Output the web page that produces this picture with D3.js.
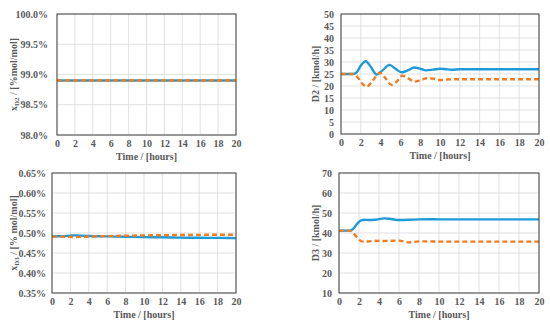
<!DOCTYPE html>
<html><head><meta charset="utf-8">
<script src="https://cdn.jsdelivr.net/npm/d3@7"></script>
<style>body{margin:0;background:#fff}svg{display:block}</style>
</head><body><svg id="c" width="550" height="325"></svg>
<script>
const xTicks = [0,2,4,6,8,10,12,14,16,18,20];

// Panel 1: xD2 (%mol/mol)
const p1Time   = [0, 20];
const p1Blue   = [98.9, 98.9];
const p1Orange = [98.9, 98.9];
const p1Ticks  = [98.0, 98.5, 99.0, 99.5, 100.0];

// Panel 2: D2 (kmol/h)
const p2BlueTime   = [0,1.2,1.6,2.0,2.5,3.0,3.6,4.2,4.9,5.5,6.1,6.8,7.4,8.0,8.6,9.3,10.0,10.6,11.2,12,14,16,18,20];
const p2Blue       = [25,25,25.8,28.5,30.3,28,24.8,26.5,28.8,27.2,25.7,26.6,27.7,27.2,26.5,26.8,27.2,27.0,26.8,27,27,27,27,27];
const p2OrangeTime = [0,1.2,1.6,2.1,2.6,3.2,3.9,4.5,5.1,5.6,6.2,6.8,7.4,8.1,8.8,9.4,10.0,10.7,11.5,12,14,16,18,20];
const p2Orange     = [25,25,24,21.2,19.7,22.2,25.5,23.2,20.5,21.7,24.3,23.2,21.8,22.5,23.3,23.0,22.5,22.7,22.8,22.8,22.8,22.8,22.8,22.8];
const p2Ticks = [0,5,10,15,20,25,30,35,40,45,50];

// Panel 3: xD3 (% mol/mol)
const p3Time   = [0,1,2,2.5,3,4,6,8,10,12,14,16,18,20];
const p3Blue   = [0.492,0.492,0.4935,0.494,0.4935,0.4925,0.4915,0.4905,0.4898,0.4892,0.4885,0.488,0.4877,0.4872];
const p3Orange = [0.491,0.491,0.4902,0.4898,0.4902,0.491,0.4922,0.4932,0.494,0.4945,0.495,0.4953,0.4956,0.4958];
const p3Ticks  = [0.35,0.40,0.45,0.50,0.55,0.60,0.65];

// Panel 4: D3 (kmol/h)
const p4Time   = [0,1.1,1.4,1.8,2.2,2.6,3.0,3.6,4.5,5.2,6.0,7,8,9,10,12,14,16,18,20];
const p4Blue   = [41.2,41.2,42,44.5,46.3,46.6,46.5,46.6,47.3,47.0,46.5,46.6,46.8,46.9,46.8,46.8,46.8,46.8,46.8,46.8];
const p4Orange = [41.2,41.2,40.2,37.8,36.0,35.6,35.8,36.1,36.0,36.1,36.2,35.3,35.8,35.8,35.7,35.7,35.7,35.7,35.7,35.7];
const p4Ticks  = [10,20,30,40,50,60,70];

const BLUE = "#1f9ad9", ORANGE = "#f07c22", TXT = "#595959";
const FONT = "'Liberation Serif','Times New Roman',serif";
const svg = d3.select("#c");

function panel(o){
  const g = svg.append("g");
  const x = d3.scaleLinear().domain([0,20]).range([o.l,o.r]);
  const y = d3.scaleLinear().domain([o.ticks[0], o.ticks[o.ticks.length-1]]).range([o.b,o.t]);
  // grid
  g.append("g").selectAll("line").data(xTicks).join("line")
    .attr("x1",d=>x(d)).attr("x2",d=>x(d)).attr("y1",o.t).attr("y2",o.b)
    .attr("stroke","#d9d9d9").attr("stroke-width",0.8);
  g.append("g").selectAll("line").data(o.ticks).join("line")
    .attr("x1",o.l).attr("x2",o.r).attr("y1",d=>y(d)).attr("y2",d=>y(d))
    .attr("stroke","#d9d9d9").attr("stroke-width",0.8);
  // axes (labels only)
  const xa = g.append("g").attr("transform",`translate(0,${o.b})`)
    .call(d3.axisBottom(x).tickValues(xTicks).tickSize(0).tickPadding(5).tickFormat(d3.format("d")));
  const ya = g.append("g").attr("transform",`translate(${o.l},0)`)
    .call(d3.axisLeft(y).tickValues(o.ticks).tickSize(0).tickPadding(o.pad).tickFormat(o.fmt));
  [xa,ya].forEach(a=>{ a.select(".domain").remove();
    a.selectAll("text").attr("fill",TXT).style("font-family",FONT).style("font-size","10px").style("font-weight","bold"); });
  // lines
  const line = (xs,ys)=> d3.line().curve(d3.curveMonotoneX).x((d,i)=>x(xs[i])).y(d=>y(d))(ys);
  g.append("path").attr("d",line(o.bt,o.bv)).attr("fill","none").attr("stroke",BLUE).attr("stroke-width",2.4);
  g.append("path").attr("d",line(o.ot,o.ov)).attr("fill","none").attr("stroke",ORANGE).attr("stroke-width",2.4).attr("stroke-dasharray","5,3");
  // border
  g.append("rect").attr("x",o.l).attr("y",o.t).attr("width",o.r-o.l).attr("height",o.b-o.t)
    .attr("fill","none").attr("stroke","#404040").attr("stroke-width",1);
  // titles
  g.append("text").attr("x",(o.l+o.r)/2).attr("y",o.b+25).attr("text-anchor","middle")
    .attr("fill",TXT).style("font-family",FONT).style("font-size","10px").style("font-weight","bold").text("Time / [hours]");
  const yt = g.append("text").attr("transform",`translate(${o.yx},${(o.t+o.b)/2}) rotate(-90)`).attr("text-anchor","middle")
    .attr("fill",TXT).style("font-family",FONT).style("font-size","10px").style("font-weight","bold");
  if(o.sub){
    yt.append("tspan").text("x");
    yt.append("tspan").attr("dy",2).style("font-size","7px").text(o.sub);
    yt.append("tspan").attr("dy",-2).text(o.ytitle);
  } else yt.text(o.ytitle);
}

panel({l:57,r:236,t:14,b:135,ticks:p1Ticks,fmt:d=>d.toFixed(1)+"%",pad:9,yx:17,sub:"D2",ytitle:" / [%mol/mol]",
  bt:p1Time,bv:p1Blue,ot:p1Time,ov:p1Orange});
panel({l:341,r:539,t:14,b:134,ticks:p2Ticks,fmt:d3.format("d"),pad:7,yx:319,ytitle:"D2 / [kmol/h]",
  bt:p2BlueTime,bv:p2Blue,ot:p2OrangeTime,ov:p2Orange});
panel({l:52,r:236,t:173,b:293,ticks:p3Ticks,fmt:d=>d.toFixed(2)+"%",pad:6,yx:17,sub:"D3",ytitle:" / [% mol/mol]",
  bt:p3Time,bv:p3Blue,ot:p3Time,ov:p3Orange});
panel({l:339,r:539,t:173,b:293,ticks:p4Ticks,fmt:d3.format("d"),pad:7,yx:319,ytitle:"D3 / [kmol/h]",
  bt:p4Time,bv:p4Blue,ot:p4Time,ov:p4Orange});
</script></body></html>
